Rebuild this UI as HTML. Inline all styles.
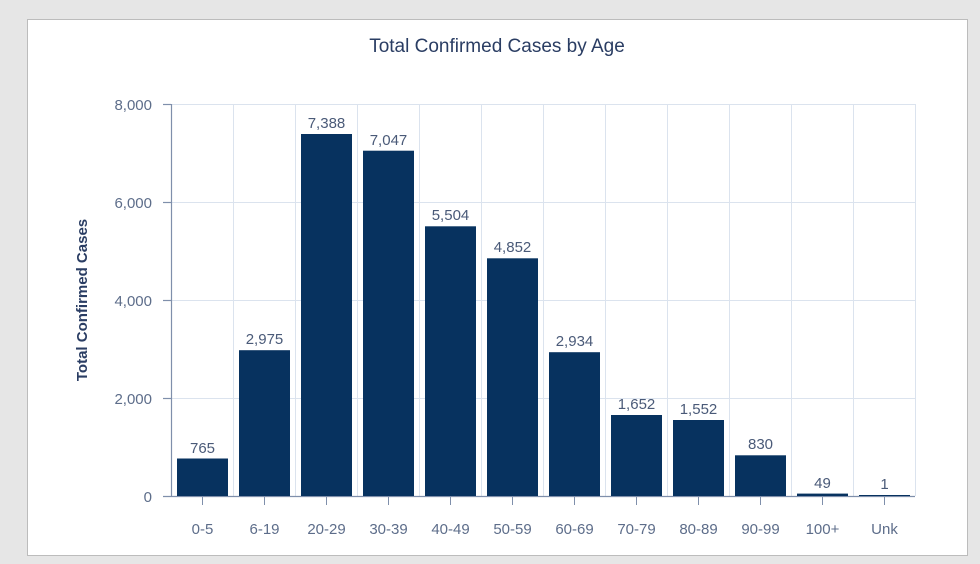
<!DOCTYPE html>
<html><head><meta charset="utf-8"><style>
html,body{margin:0;padding:0;background:#e6e6e6;}
svg{display:block;font-family:"Liberation Sans","DejaVu Sans",sans-serif;}
</style></head><body>
<svg width="980" height="564" viewBox="0 0 980 564">
<rect x="0" y="0" width="980" height="564" fill="#e6e6e6"/>
<rect x="27.5" y="19.5" width="940" height="536" fill="#fff" stroke="#bcbcbc"/>
<text x="497" y="52" text-anchor="middle" font-size="19" fill="#2a3d63">Total Confirmed Cases by Age</text>
<g stroke="#dbe3ee" stroke-width="1">
<line x1="171" y1="104.5" x2="915" y2="104.5"/>
<line x1="171" y1="202.5" x2="915" y2="202.5"/>
<line x1="171" y1="300.5" x2="915" y2="300.5"/>
<line x1="171" y1="398.5" x2="915" y2="398.5"/>
<line x1="233.5" y1="104" x2="233.5" y2="496"/>
<line x1="295.5" y1="104" x2="295.5" y2="496"/>
<line x1="357.5" y1="104" x2="357.5" y2="496"/>
<line x1="419.5" y1="104" x2="419.5" y2="496"/>
<line x1="481.5" y1="104" x2="481.5" y2="496"/>
<line x1="543.5" y1="104" x2="543.5" y2="496"/>
<line x1="605.5" y1="104" x2="605.5" y2="496"/>
<line x1="667.5" y1="104" x2="667.5" y2="496"/>
<line x1="729.5" y1="104" x2="729.5" y2="496"/>
<line x1="791.5" y1="104" x2="791.5" y2="496"/>
<line x1="853.5" y1="104" x2="853.5" y2="496"/>
<line x1="915.5" y1="104" x2="915.5" y2="496"/>
</g>
<g stroke="#7f8fab" stroke-width="1.2">
<line x1="171.5" y1="104" x2="171.5" y2="497"/>
<line x1="163" y1="104.5" x2="171" y2="104.5"/>
<line x1="163" y1="202.5" x2="171" y2="202.5"/>
<line x1="163" y1="300.5" x2="171" y2="300.5"/>
<line x1="163" y1="398.5" x2="171" y2="398.5"/>
<line x1="163" y1="496.5" x2="915" y2="496.5"/>
</g>
<g font-size="15" fill="#5d6d8a" text-anchor="end">
<text x="152" y="110">8,000</text>
<text x="152" y="208">6,000</text>
<text x="152" y="306">4,000</text>
<text x="152" y="404">2,000</text>
<text x="152" y="502">0</text>
</g>
<text transform="translate(87,300) rotate(-90)" text-anchor="middle" font-size="15" font-weight="bold" fill="#2a3d63">Total Confirmed Cases</text>
<g fill="#07325f">
<rect x="177" y="458.5" width="51" height="37.5"/>
<rect x="239" y="350.2" width="51" height="145.8"/>
<rect x="301" y="134" width="51" height="362"/>
<rect x="363" y="150.7" width="51" height="345.3"/>
<rect x="425" y="226.3" width="51" height="269.7"/>
<rect x="487" y="258.3" width="51" height="237.7"/>
<rect x="549" y="352.2" width="51" height="143.8"/>
<rect x="611" y="415" width="51" height="81"/>
<rect x="673" y="420" width="51" height="76"/>
<rect x="735" y="455.3" width="51" height="40.7"/>
<rect x="797" y="493.6" width="51" height="2.4"/>
<rect x="859" y="495" width="51" height="1"/>
</g>
<g font-size="15" fill="#4a5a78" text-anchor="middle">
<text x="202.5" y="453">765</text>
<text x="264.5" y="344">2,975</text>
<text x="326.5" y="128">7,388</text>
<text x="388.5" y="145">7,047</text>
<text x="450.5" y="220">5,504</text>
<text x="512.5" y="252">4,852</text>
<text x="574.5" y="346">2,934</text>
<text x="636.5" y="409">1,652</text>
<text x="698.5" y="414">1,552</text>
<text x="760.5" y="449">830</text>
<text x="822.5" y="488">49</text>
<text x="884.5" y="489">1</text>
</g>
<g stroke="#7f8fab" stroke-width="1">
<line x1="202.5" y1="497" x2="202.5" y2="505"/><line x1="264.5" y1="497" x2="264.5" y2="505"/>
<line x1="326.5" y1="497" x2="326.5" y2="505"/><line x1="388.5" y1="497" x2="388.5" y2="505"/>
<line x1="450.5" y1="497" x2="450.5" y2="505"/><line x1="512.5" y1="497" x2="512.5" y2="505"/>
<line x1="574.5" y1="497" x2="574.5" y2="505"/><line x1="636.5" y1="497" x2="636.5" y2="505"/>
<line x1="698.5" y1="497" x2="698.5" y2="505"/><line x1="760.5" y1="497" x2="760.5" y2="505"/>
<line x1="822.5" y1="497" x2="822.5" y2="505"/><line x1="884.5" y1="497" x2="884.5" y2="505"/>
</g>
<g font-size="15" fill="#5d6d8a" text-anchor="middle">
<text x="202.5" y="534">0-5</text>
<text x="264.5" y="534">6-19</text>
<text x="326.5" y="534">20-29</text>
<text x="388.5" y="534">30-39</text>
<text x="450.5" y="534">40-49</text>
<text x="512.5" y="534">50-59</text>
<text x="574.5" y="534">60-69</text>
<text x="636.5" y="534">70-79</text>
<text x="698.5" y="534">80-89</text>
<text x="760.5" y="534">90-99</text>
<text x="822.5" y="534">100+</text>
<text x="884.5" y="534">Unk</text>
</g>
</svg>
</body></html>
